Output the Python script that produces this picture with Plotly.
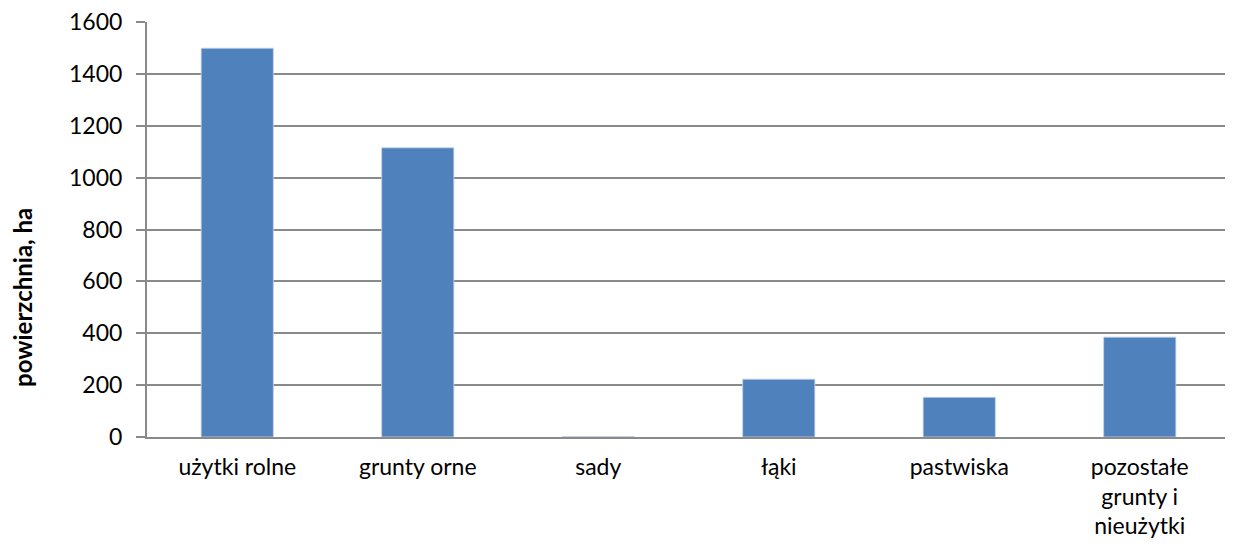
import plotly.graph_objects as go

categories = ["użytki rolne", "grunty orne", "sady", "łąki", "pastwiska",
              "pozostałe<br>grunty i<br>nieużytki"]
values = [1499, 1115, 2, 223, 153, 385]
y_ticks = [0, 200, 400, 600, 800, 1000, 1200, 1400, 1600]
y_title = "powierzchnia, ha"

GRID = "#8a8a8a"
FONT = "Lato"

fig = go.Figure(go.Bar(
    x=categories, y=values,
    marker=dict(color="#4F81BD", line=dict(color="#c6d6ea", width=0.8)),
    width=0.4,
))

# page body has an 8px margin, so the figure is sized/offset to compensate
fig.update_layout(
    width=1225, height=534,
    margin=dict(l=139, r=3, t=14, b=105, autoexpand=False),
    paper_bgcolor="white", plot_bgcolor="white",
    font=dict(family=FONT, size=23, color="black"),
    showlegend=False,
)
fig.update_xaxes(
    showline=True, linecolor=GRID, linewidth=2,
    ticks="", showgrid=False, automargin=False,
    tickfont=dict(family=FONT, size=23, color="black"),
    ticklabelstandoff=8,
)
fig.update_yaxes(
    range=[0, 1600.05], tickvals=y_ticks,
    showline=True, linecolor=GRID, linewidth=2,
    ticks="outside", ticklen=9, tickcolor=GRID, tickwidth=1.5,
    showgrid=True, gridcolor=GRID, gridwidth=1.5,
    zeroline=False, automargin=False,
    tickfont=dict(family=FONT, size=23, color="black"),
    ticklabelstandoff=9,
    ticklabeloverflow="allow",
)
fig.add_annotation(
    text=y_title, textangle=-90, showarrow=False,
    xref="paper", yref="paper", x=-124 / 1083, y=0.335,
    xanchor="center", yanchor="middle",
    font=dict(family=FONT, size=24, color="black", weight="bold"),
)

fig.write_html("out.html")
